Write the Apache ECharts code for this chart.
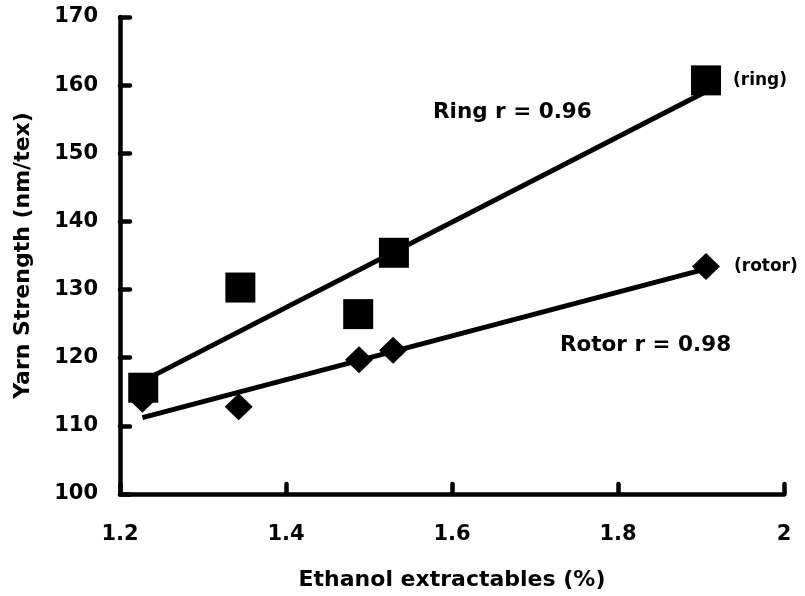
<!DOCTYPE html>
<html>
<head>
<meta charset="utf-8">
<script src="https://cdn.jsdelivr.net/npm/echarts@6/dist/echarts.min.js"></script>
<style>
html,body{margin:0;padding:0;background:#fff;}
#chart{width:805px;height:596px;}
</style>
</head>
<body>
<div id="chart"></div>
<script>
// Data
const ringX = [1.228, 1.345, 1.487, 1.530, 1.906];
const ringY = [115.6, 130.3, 126.4, 135.4, 160.7];
const rotorX = [1.227, 1.343, 1.488, 1.529, 1.906];
const rotorY = [113.9, 112.8, 119.7, 121.1, 133.4];
// Regression line endpoints as drawn in the reference
const ringFitX = [1.228, 1.905];
const ringFitY = [116.6, 159.0];
const rotorFitX = [1.227, 1.905];
const rotorFitY = [111.2, 133.0];
const xTicks = [1.2, 1.4, 1.6, 1.8, 2];
const yTicks = [100, 110, 120, 130, 140, 150, 160, 170];
const ringLabel = '(ring)';
const rotorLabel = '(rotor)';
const ringNote = 'Ring r = 0.96';
const rotorNote = 'Rotor r = 0.98';
const xTitle = 'Ethanol extractables (%)';
const yTitle = 'Yarn Strength (nm/tex)';

const FONT = '"DejaVu Sans", "Liberation Sans", Arial, sans-serif';
const pairs = (xs, ys) => xs.map((x, i) => [x, ys[i]]);

const chart = echarts.init(document.getElementById('chart'), null, {renderer: 'canvas'});

const axisCommon = {
  axisLine: {show: true, onZero: false, lineStyle: {color: '#000', width: 4.5, cap: 'round'}},
  axisTick: {show: true, inside: true, length: 10, lineStyle: {color: '#000', width: 4.5, cap: 'round'}},
  splitLine: {show: false},
  nameTextStyle: {color: '#000', fontSize: 22, fontWeight: 'bold', fontFamily: FONT},
  axisLabel: {color: '#000', fontSize: 21, fontWeight: 'bold', fontFamily: FONT}
};

chart.setOption({
  animation: false,
  backgroundColor: '#fff',
  grid: {left: 120, right: 21, top: 17, bottom: 99, containLabel: false},
  xAxis: Object.assign({}, axisCommon, {
    type: 'value',
    min: xTicks[0], max: xTicks[xTicks.length - 1], interval: 0.2,
    name: xTitle, nameLocation: 'middle', nameGap: 75,
    axisLabel: Object.assign({}, axisCommon.axisLabel, {margin: 30, formatter: v => String(+v.toFixed(1))})
  }),
  yAxis: Object.assign({}, axisCommon, {
    type: 'value',
    min: yTicks[0], max: yTicks[yTicks.length - 1], interval: 10,
    name: yTitle, nameLocation: 'middle', nameGap: 86,
    axisLabel: Object.assign({}, axisCommon.axisLabel, {margin: 22})
  }),
  graphic: [
    {type: 'text', x: 433, y: 112, style: {text: ringNote, fill: '#000', fontSize: 21.5, fontWeight: 'bold', fontFamily: FONT, align: 'left', verticalAlign: 'middle'}},
    {type: 'text', x: 560, y: 345, style: {text: rotorNote, fill: '#000', fontSize: 21.5, fontWeight: 'bold', fontFamily: FONT, align: 'left', verticalAlign: 'middle'}}
  ],
  series: [
    {
      type: 'line', data: pairs(ringFitX, ringFitY), symbol: 'none',
      lineStyle: {color: '#000', width: 5, opacity: 1}, z: 2
    },
    {
      type: 'line', data: pairs(rotorFitX, rotorFitY), symbol: 'none',
      lineStyle: {color: '#000', width: 5, opacity: 1}, z: 2
    },
    {
      type: 'scatter', data: pairs(rotorX, rotorY), symbol: 'diamond', symbolSize: [28, 27],
      itemStyle: {color: '#000', opacity: 1}, z: 3,
      label: {
        show: true, color: '#000', opacity: 1, fontSize: 17, fontWeight: 'bold', fontFamily: FONT,
        position: 'right', distance: 14,
        formatter: p => (p.dataIndex === rotorX.length - 1 ? rotorLabel : '')
      }
    },
    {
      type: 'scatter', data: pairs(ringX, ringY), symbol: 'rect', symbolSize: 30,
      itemStyle: {color: '#000', opacity: 1}, z: 4,
      label: {
        show: true, color: '#000', opacity: 1, fontSize: 17, fontWeight: 'bold', fontFamily: FONT,
        position: 'right', distance: 12,
        formatter: p => (p.dataIndex === ringX.length - 1 ? ringLabel : '')
      }
    }
  ]
});
</script>
</body>
</html>
